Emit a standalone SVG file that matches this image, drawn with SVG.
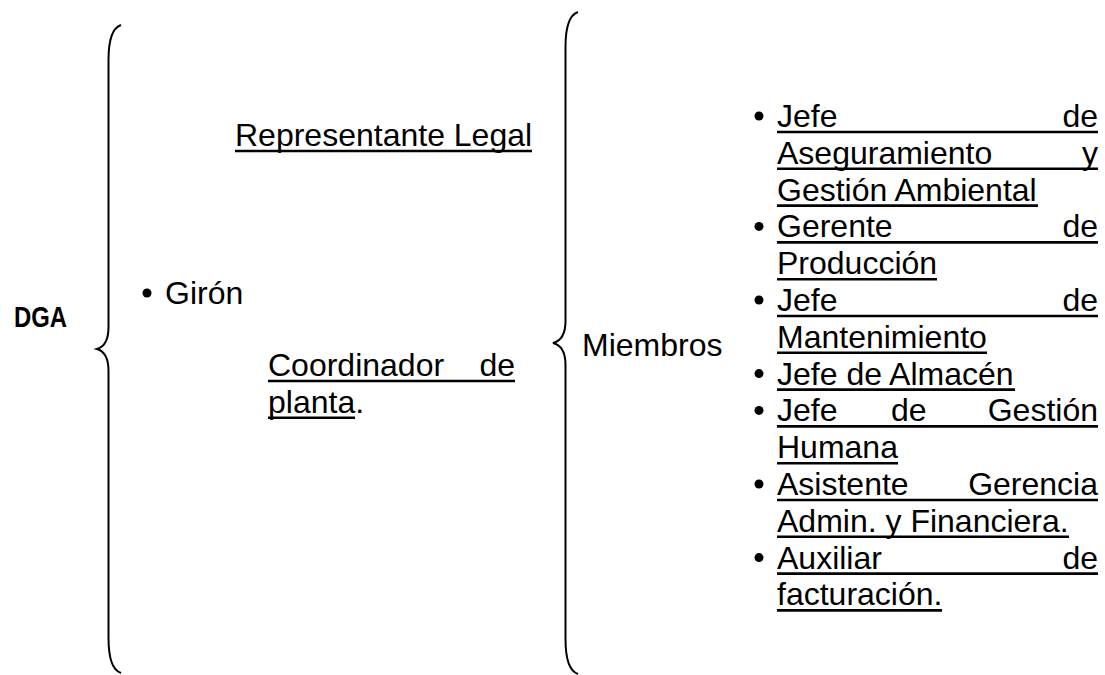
<svg xmlns="http://www.w3.org/2000/svg" width="1105" height="675" viewBox="0 0 1105 675">
<style>
  text { font-family: "Liberation Sans", Arial, sans-serif; font-size: 32px; fill: #000; }
  .bold { font-family: "Liberation Sans Narrow", "Liberation Sans", Arial, sans-serif; font-weight: bold; font-size: 30px; }
  .ul { stroke: #000; stroke-width: 2.6; }
  .brace { fill: none; stroke: #000; stroke-width: 2; }
  .dot { fill: #000; }
</style>
<rect width="1105" height="675" fill="#fff"/>
<g id="connectors">
  <path class="brace" d="M121,25 C112,28 108.5,40 108.5,60 L108.5,327 C108.5,340 104,347 97,349 C104,351 108.5,358 108.5,371 L108.5,638 C108.5,658 112,670 121,673"/>
  <path class="brace" d="M578,12 C569,15 565.5,27 565.5,47 L565.5,321 C565.5,334 561,341 553,343 C561,345 565.5,352 565.5,365 L565.5,639 C565.5,659 569,671 578,674"/>
</g>
<g id="dga">
  <text class="bold" x="14" y="327" textLength="53" lengthAdjust="spacingAndGlyphs">DGA</text>
</g>
<g id="giron">
  <circle class="dot" cx="147" cy="293" r="4.5"/>
  <text x="165" y="304">Girón</text>
</g>
<g id="representante">
  <text x="235" y="146">Representante Legal</text>
  <line class="ul" x1="235" y1="151" x2="532" y2="151"/>
</g>
<g id="coordinador">
  <text x="268" y="376">Coordinador</text>
  <text x="515" y="376" text-anchor="end">de</text>
  <line class="ul" x1="268" y1="381" x2="515" y2="381"/>
  <text x="268" y="412.8">planta.</text>
  <line class="ul" x1="268" y1="417.8" x2="355" y2="417.8"/>
</g>
<g id="miembros">
  <text x="582" y="356">Miembros</text>
</g>
<g id="lista">
  <circle class="dot" cx="759" cy="116" r="4.5"/>
  <text x="777" y="127">Jefe</text>
  <text x="1098" y="127" text-anchor="end">de</text>
  <line class="ul" x1="777" y1="132" x2="1098" y2="132"/>
  <text x="777" y="163.8">Aseguramiento</text>
  <text x="1098" y="163.8" text-anchor="end">y</text>
  <line class="ul" x1="777" y1="168.8" x2="1098" y2="168.8"/>
  <text x="777" y="200.6">Gestión Ambiental</text>
  <line class="ul" x1="777" y1="205.6" x2="1038" y2="205.6"/>

  <circle class="dot" cx="759" cy="226.4" r="4.5"/>
  <text x="777" y="237.4">Gerente</text>
  <text x="1098" y="237.4" text-anchor="end">de</text>
  <line class="ul" x1="777" y1="242.4" x2="1098" y2="242.4"/>
  <text x="777" y="274.2">Producción</text>
  <line class="ul" x1="777" y1="279.2" x2="937" y2="279.2"/>

  <circle class="dot" cx="759" cy="300" r="4.5"/>
  <text x="777" y="311">Jefe</text>
  <text x="1098" y="311" text-anchor="end">de</text>
  <line class="ul" x1="777" y1="316" x2="1098" y2="316"/>
  <text x="777" y="347.8">Mantenimiento</text>
  <line class="ul" x1="777" y1="352.8" x2="987" y2="352.8"/>

  <circle class="dot" cx="759" cy="373.6" r="4.5"/>
  <text x="777" y="384.6">Jefe de Almacén</text>
  <line class="ul" x1="777" y1="389.6" x2="1015" y2="389.6"/>

  <circle class="dot" cx="759" cy="410.4" r="4.5"/>
  <text x="777" y="421.4">Jefe</text>
  <text x="891" y="421.4">de</text>
  <text x="1098" y="421.4" text-anchor="end">Gestión</text>
  <line class="ul" x1="777" y1="426.4" x2="1098" y2="426.4"/>
  <text x="777" y="458.2">Humana</text>
  <line class="ul" x1="777" y1="463.2" x2="898" y2="463.2"/>

  <circle class="dot" cx="759" cy="484" r="4.5"/>
  <text x="777" y="495">Asistente</text>
  <text x="1098" y="495" text-anchor="end">Gerencia</text>
  <line class="ul" x1="777" y1="500" x2="1098" y2="500"/>
  <text x="777" y="531.8">Admin. y Financiera.</text>
  <line class="ul" x1="777" y1="536.8" x2="1069" y2="536.8"/>

  <circle class="dot" cx="759" cy="557.6" r="4.5"/>
  <text x="777" y="568.6">Auxiliar</text>
  <text x="1098" y="568.6" text-anchor="end">de</text>
  <line class="ul" x1="777" y1="573.6" x2="1098" y2="573.6"/>
  <text x="777" y="605.4">facturación.</text>
  <line class="ul" x1="777" y1="610.4" x2="942" y2="610.4"/>
</g>
</svg>
